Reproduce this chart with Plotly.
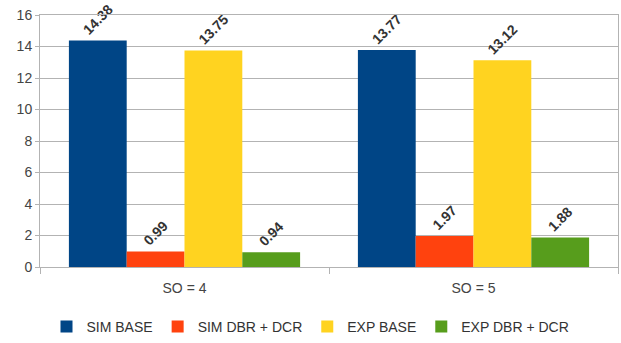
import plotly.graph_objects as go

categories = ["SO = 4", "SO = 5"]
series_names = ["SIM BASE", "SIM DBR + DCR", "EXP BASE", "EXP DBR + DCR"]
sim_base = [14.38, 13.77]
sim_dbr = [0.99, 1.97]
exp_base = [13.75, 13.12]
exp_dbr = [0.94, 1.88]
colors = ["#004586", "#ff420e", "#ffd320", "#579d1c"]

fig = go.Figure()
for name, vals, col in zip(series_names, [sim_base, sim_dbr, exp_base, exp_dbr], colors):
    fig.add_trace(go.Bar(
        x=categories, y=vals, name=name, marker_color=col, marker_line_width=0,
        text=[f"<b>{v:.2f}</b>" for v in vals], textposition="outside", textangle=-45,
        textfont=dict(family="Liberation Sans, Arial", size=14, color="#333333"),
        cliponaxis=False,
    ))

fig.update_layout(
    width=621, height=343,
    margin=dict(l=40, r=3, t=15, b=76, autoexpand=False),
    barmode="group", bargap=0.2, bargroupgap=0,
    plot_bgcolor="white", paper_bgcolor="white",
    font=dict(family="Liberation Sans, Arial", size=14, color="#444444"),
    legend=dict(orientation="h", x=0.5, xanchor="center", xref="container",
                y=16 / 343, yanchor="middle", yref="container",
                font=dict(size=14, color="#333333"), itemwidth=30, tracegroupgap=0),
    xaxis=dict(showline=True, linecolor="#b3b3b3", mirror=True, ticks="outside",
               tickson="boundaries", ticklen=6, tickcolor="#b3b3b3",
               ticklabelstandoff=8,
               tickfont=dict(size=14, color="#444444")),
    yaxis=dict(range=[0, 16], dtick=2, showgrid=True, gridcolor="#b3b3b3",
               showline=True, linecolor="#b3b3b3", mirror=True,
               ticks="outside", ticklen=4, tickcolor="#b3b3b3",
               zeroline=False, tickfont=dict(size=14, color="#444444")),
)
fig.write_html("out.html")
